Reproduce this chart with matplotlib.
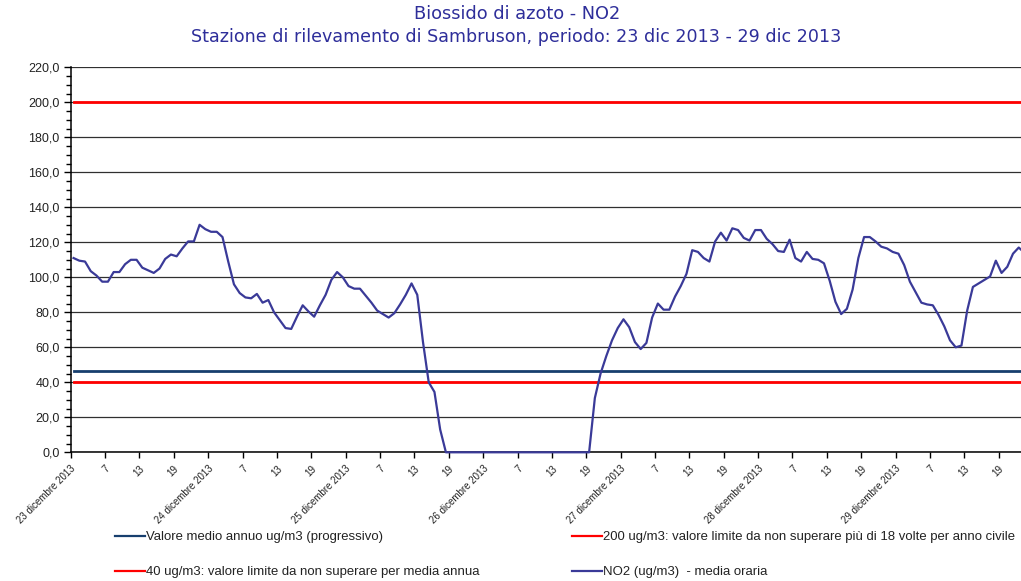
import numpy as np
import matplotlib
matplotlib.use("Agg")
import matplotlib.pyplot as plt
from matplotlib.ticker import MultipleLocator

# ---------------- data ----------------
days = ["23 dicembre 2013", "24 dicembre 2013", "25 dicembre 2013", "26 dicembre 2013",
        "27 dicembre 2013", "28 dicembre 2013", "29 dicembre 2013"]
hour_labels = ["7", "13", "19"]

no2 = [
    111, 109.5, 109, 103.5, 101, 97.5, 97.5, 103, 103, 107.5,
    110, 110, 105.5, 104, 102.5, 105, 110.5, 113, 112, 116.5,
    120.5, 120.5, 130, 127.5, 126, 126, 123, 109, 96, 91,
    88.5, 88, 90.5, 85.5, 87, 80, 75.5, 71, 70.5, 77.5,
    84, 80.5, 77.5, 84, 90, 98.5, 103, 100, 95, 93.5,
    93.5, 89.5, 85.5, 81, 79, 77, 79.5, 84.5, 90, 96.5,
    90, 63, 40, 34.5, 13, 0, 0, 0, 0, 0,
    0, 0, 0, 0, 0, 0, 0, 0, 0, 0,
    0, 0, 0, 0, 0, 0, 0, 0, 0, 0,
    0, 31, 45, 55, 64, 71, 76, 71.5, 63, 59,
    62.5, 77, 85, 81.5, 81.5, 89, 95, 102, 115.5, 114.5,
    111, 109, 120.5, 125.5, 121, 128, 127, 122.5, 121, 127,
    127, 122, 119, 115, 114.5, 121.5, 111, 109, 114.5, 110.5,
    110, 108, 98, 86, 79, 82, 93, 111, 123, 123,
    120.5, 117.5, 116.5, 114.5, 113.5, 107, 97.5, 91.5, 85.5, 84.5,
    84, 78.5, 72, 64, 60, 61, 81, 94.5, 96.5, 98.5,
    100.5, 109.5, 102.5, 106, 113.5, 117, 114, 112,
]
mean_annual_value = 46.5
limit_hourly = 200
limit_annual = 40

labels = ["Valore medio annuo ug/m3 (progressivo)",
          "200 ug/m3: valore limite da non superare più di 18 volte per anno civile",
          "40 ug/m3: valore limite da non superare per media annua",
          "NO2 (ug/m3)  - media oraria"]

title1 = "Biossido di azoto - NO2"
title2 = "Stazione di rilevamento di Sambruson, periodo: 23 dic 2013 - 29 dic 2013"

# ---------------- plot ----------------
W, H = 1021, 581
fig = plt.figure(figsize=(W / 100, H / 100), dpi=100)
left_px, top_px, bottom_px = 70.7, 67.3, 452.3
ax = fig.add_axes([left_px / W, 1 - bottom_px / H, 1 - left_px / W, (bottom_px - top_px) / H])

n = len(no2)
hours = np.arange(n)
mean_series = np.full(n, mean_annual_value)
lim200 = np.full(n, limit_hourly)
lim40 = np.full(n, limit_annual)

blue_mean = "#173f6e"
red = "#ff0000"
purple = "#3a3a98"

l1, = ax.plot(hours, mean_series, color=blue_mean, lw=2.0, zorder=3)
l2, = ax.plot(hours, lim200, color=red, lw=2.0, zorder=3)
l3, = ax.plot(hours, lim40, color=red, lw=2.0, zorder=3)
l4, = ax.plot(hours, no2, color=purple, lw=1.6, zorder=4, clip_on=False)

ax.set_ylim(0, 220)
px_per_hour = 34.37 / 6
ax.set_xlim(-0.5, -0.5 + (W - left_px) / px_per_hour)

yt = np.arange(0, 221, 20)
ax.set_yticks(yt)
ax.set_yticklabels([f"{v:.1f}".replace(".", ",") for v in yt],
                   fontsize=9, family="Liberation Sans", color="#222222")
ax.yaxis.set_minor_locator(MultipleLocator(5))
ax.grid(axis="y", which="major", color="#303030", lw=0.9, zorder=1)

# x ticks: every 6 hours, day label at start of each day
tick_pos = []
tick_lab = []
for d, day in enumerate(days):
    tick_pos.append(d * 24 - 0.5)
    tick_lab.append(day)
    for k, hl in enumerate(hour_labels):
        tick_pos.append(d * 24 + (k + 1) * 6 - 0.5)
        tick_lab.append(hl)
ax.set_xticks(tick_pos)
ax.set_xticklabels(tick_lab, rotation=45, ha="right", va="top", rotation_mode="anchor",
                   fontsize=7, family="Liberation Sans", color="#222222")

ax.tick_params(axis="y", which="major", length=5, width=1, pad=3, direction="out")
ax.tick_params(axis="y", which="minor", length=3.5, width=1, direction="out")
ax.tick_params(axis="x", which="major", length=4, width=1, pad=4, direction="out")
ax.spines["right"].set_visible(False)
ax.spines["top"].set_visible(False)
for s in ("left", "bottom"):
    ax.spines[s].set_linewidth(1.1)
    ax.spines[s].set_color("black")

# titles
fig.text(517 / W, 1 - 14 / H, title1, ha="center", va="center", color="#2e2e9a",
         fontsize=12.8, family="DejaVu Sans")
fig.text(516 / W, 1 - 37 / H, title2, ha="center", va="center", color="#2e2e9a",
         fontsize=12.6, family="DejaVu Sans")

# legend: two columns built as two legends
leg_kw = dict(loc="upper left", frameon=False, handlelength=2.25, handletextpad=0.12,
              labelspacing=1.75, borderpad=0, borderaxespad=0,
              prop={"family": "Liberation Sans", "size": 9.45})
leg1 = fig.legend([l1, l3], [labels[0], labels[2]], bbox_to_anchor=(115 / W, 1 - 531 / H), **leg_kw)
leg2 = fig.legend([l2, l4], [labels[1], labels[3]], bbox_to_anchor=(572 / W, 1 - 531 / H), **leg_kw)
for lg in (leg1, leg2):
    for t in lg.get_texts():
        t.set_color("#222222")
for h in leg1.legend_handles + leg2.legend_handles:
    h.set_linewidth(1.6)

fig.savefig("out.png", dpi=100)
